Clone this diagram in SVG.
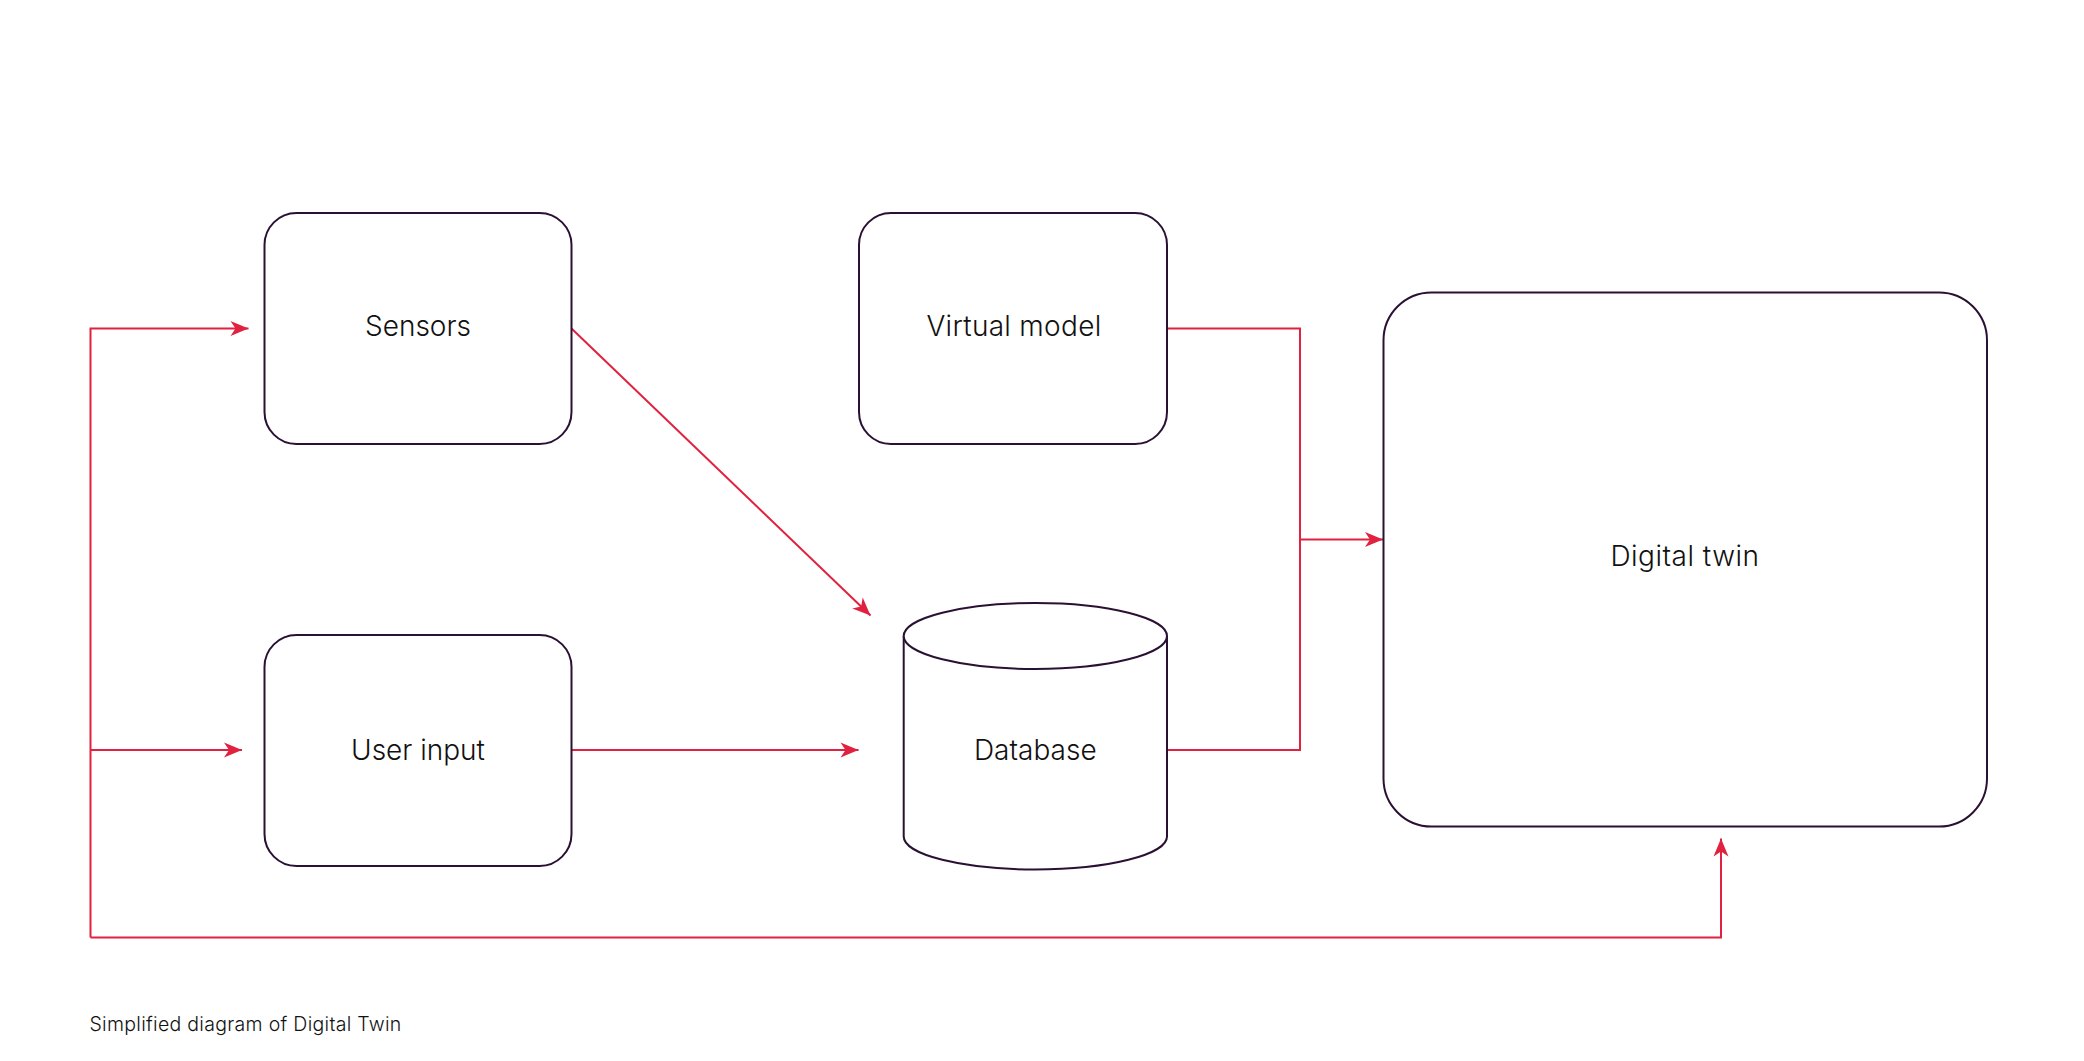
<svg xmlns="http://www.w3.org/2000/svg" width="2084" height="1061" viewBox="0 0 2084 1061">
<style>
.node{fill:#ffffff;stroke:#2a1133;stroke-width:2}
.lbl{font-family:Inter,"Liberation Sans",sans-serif;font-size:28px;font-weight:300;fill:#111111;text-anchor:middle}
.edge{fill:none;stroke:#e0213f;stroke-width:2}
.cap{font-family:Inter,"Liberation Sans",sans-serif;font-size:19.5px;font-weight:300;letter-spacing:0.3px;fill:#111111}
</style>
<defs>
<marker id="arr" markerUnits="userSpaceOnUse" markerWidth="24" markerHeight="20" viewBox="-19 -10 22 20" refX="0" refY="0" orient="auto">
<path d="M0,0 L-18,-7.5 L-13,0 L-18,7.5 Z" fill="#e0213f"/>
</marker>
</defs>
<rect width="2084" height="1061" fill="#ffffff"/>
<g id="connectors">
<path class="edge" d="M90.5,937.5 V328.5 H248.5" marker-end="url(#arr)"/>
<path class="edge" d="M90.5,750 H242" marker-end="url(#arr)"/>
<path class="edge" d="M90.5,937.5 H1721 V838.5" marker-end="url(#arr)"/>
<path class="edge" d="M571.5,328.5 L870.5,615.5" marker-end="url(#arr)"/>
<path class="edge" d="M571.5,750 H858.5" marker-end="url(#arr)"/>
<path class="edge" d="M1167,328.5 H1300 V539.5 H1383" marker-end="url(#arr)"/>
<path class="edge" d="M1167,750 H1300 V539.5"/>
</g>
<g id="sensors">
<rect class="node" x="264.5" y="213" width="307" height="231" rx="32"/>
<text class="lbl" x="418" y="335.5">Sensors</text>
</g>
<g id="virtual-model">
<rect class="node" x="859" y="213" width="308" height="231" rx="32"/>
<text class="lbl" x="1014" y="335.5" letter-spacing="0.3">Virtual model</text>
</g>
<g id="user-input">
<rect class="node" x="264.5" y="635" width="307" height="231" rx="32"/>
<text class="lbl" x="418" y="759.5">User input</text>
</g>
<g id="database">
<path class="node" d="M903.7,636 V836.5 A131.6,33 0 0 0 1167,836.5 V636 A131.6,33 0 0 0 903.7,636 Z"/>
<path class="node" fill="none" d="M903.7,636 A131.6,33 0 0 0 1167,636"/>
<text class="lbl" x="1035.3" y="760">Database</text>
</g>
<g id="digital-twin">
<rect class="node" x="1383.5" y="292.5" width="603.5" height="534" rx="48"/>
<text class="lbl" x="1685" y="566" letter-spacing="0.5">Digital twin</text>
</g>
<text class="cap" x="89.5" y="1030.5">Simplified diagram of Digital Twin</text>
</svg>
